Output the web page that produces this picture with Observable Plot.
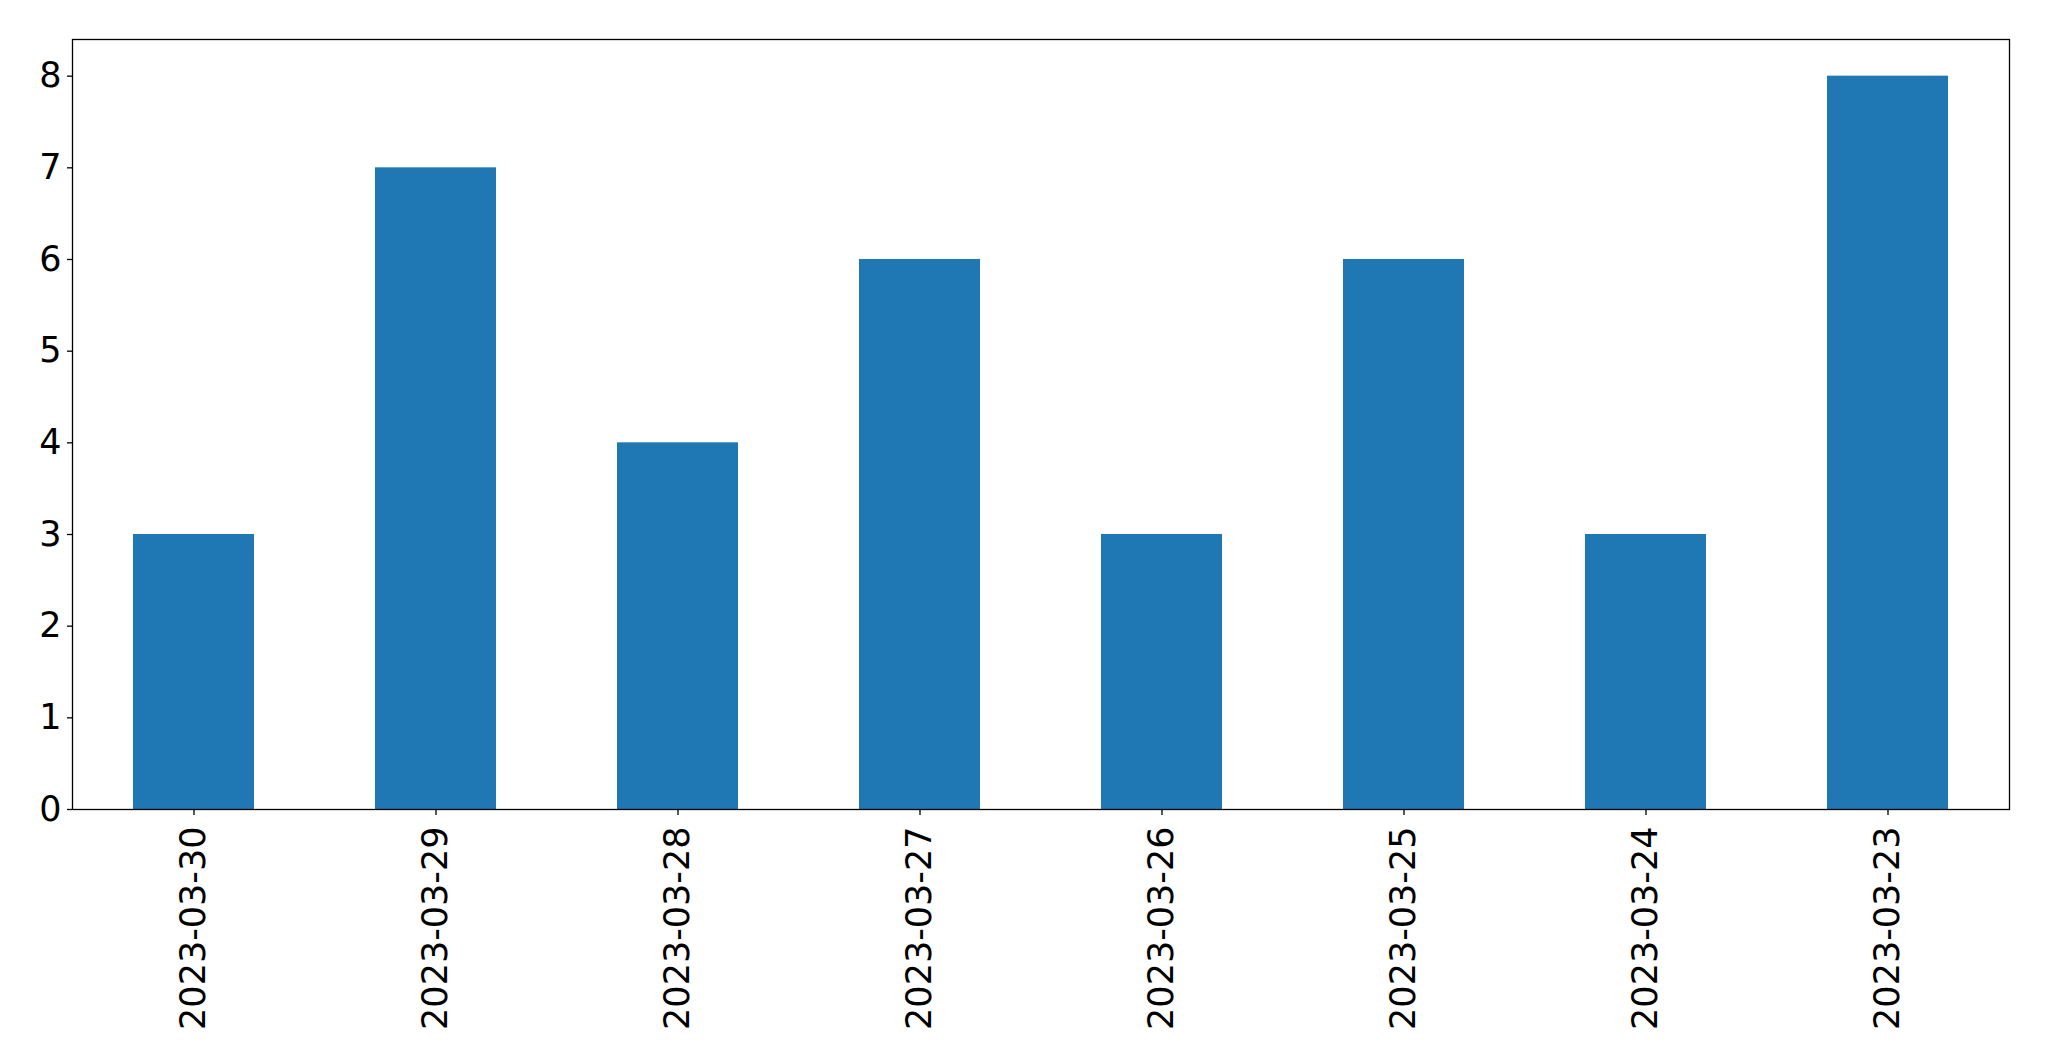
<!DOCTYPE html>
<html>
<head>
<meta charset="utf-8">
<script src="https://cdn.jsdelivr.net/npm/d3@7"></script>
<script src="https://cdn.jsdelivr.net/npm/@observablehq/plot@0.6"></script>
<style>
  html, body { margin: 0; padding: 0; background: #fff; }
  svg { display: block; }
</style>
</head>
<body>
<div id="chart"></div>
<script>
const dates = ["2023-03-30", "2023-03-29", "2023-03-28", "2023-03-27", "2023-03-26", "2023-03-25", "2023-03-24", "2023-03-23"];
const counts = [3, 7, 4, 6, 3, 6, 3, 8];
const yTicks = [0, 1, 2, 3, 4, 5, 6, 7, 8];

const data = dates.map((d, i) => ({date: d, count: counts[i]}));

const chart = Plot.plot({
  width: 2049,
  height: 1061,
  marginLeft: 72,
  marginRight: 40,
  marginTop: 39,
  marginBottom: 252,
  style: {fontFamily: "DejaVu Sans", background: "#fff", color: "#000"},
  x: {domain: dates, paddingInner: 0.5, paddingOuter: 0.25, label: null},
  y: {domain: [0, 8.4], label: null},
  marks: [
    Plot.barY(data, {x: "date", y: "count", fill: "#1f77b4"}),
    Plot.frame({stroke: "#000", strokeWidth: 1.3}),
    Plot.axisY({ticks: yTicks, tickFormat: d => String(d), fontSize: 35, tickSize: 5, tickPadding: 6, label: null, stroke: "#000", strokeWidth: 1.3}),
    Plot.axisX({tickRotate: -90, fontSize: 35, tickSize: 6, tickPadding: 11, label: null, stroke: "#000", strokeWidth: 1.3})
  ]
});
document.getElementById("chart").appendChild(chart);
</script>
</body>
</html>
